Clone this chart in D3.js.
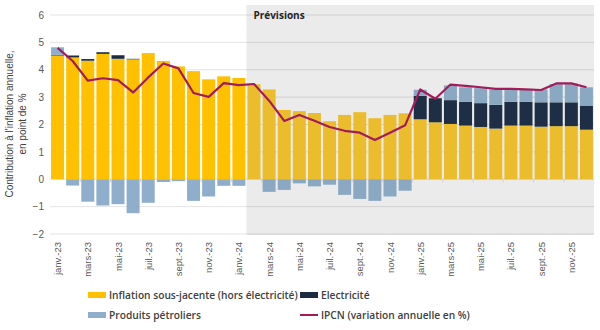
<!DOCTYPE html>
<html>
<head>
<meta charset="utf-8">
<script src="https://cdn.jsdelivr.net/npm/d3@7"></script>
<style>
  html, body { margin: 0; padding: 0; background: #fff; }
  svg { display: block; font-family: "Liberation Sans", Arial, sans-serif; }
</style>
</head>
<body>
<div id="chart"></div>
<script>
// Contributions à l'inflation annuelle
const monthNames = ['janv.', 'févr.', 'mars', 'avr.', 'mai', 'juin', 'juil.', 'août', 'sept.', 'oct.', 'nov.', 'déc.'];
const years = ['23', '24', '25'];
const months = years.flatMap(y => monthNames.map(m => m + '-' + y));

const core = [4.52, 4.45, 4.33, 4.58, 4.40, 4.38, 4.61, 4.32, 4.12, 3.95, 3.65, 3.76,
              3.70, 3.47, 3.28, 2.53, 2.49, 2.42, 2.12, 2.35, 2.45, 2.23, 2.35, 2.41,
              2.19, 2.08, 2.02, 1.96, 1.91, 1.85, 1.96, 1.96, 1.92, 1.94, 1.94, 1.81];
const elec = [0.03, 0.07, 0.06, 0.06, 0.13, 0.02, 0, 0, 0, 0, 0, 0,
              0, 0, 0, 0, 0, 0, 0, 0, 0, 0, 0, 0,
              0.86, 0.88, 0.87, 0.87, 0.87, 0.87, 0.87, 0.87, 0.89, 0.87, 0.87, 0.88];
const oil = [0.27, -0.23, -0.82, -0.96, -0.91, -1.24, -0.86, -0.10, -0.07, -0.79, -0.63, -0.24,
             -0.24, 0, -0.46, -0.39, -0.15, -0.26, -0.20, -0.57, -0.72, -0.79, -0.63, -0.42,
             0.22, 0, 0.54, 0.53, 0.55, 0.56, 0.45, 0.45, 0.47, 0.67, 0.69, 0.67];
const ipcn = [4.80, 4.32, 3.60, 3.69, 3.62, 3.17, 3.72, 4.23, 4.05, 3.15, 3.01, 3.51,
              3.44, 3.48, 2.87, 2.13, 2.35, 2.14, 1.91, 1.77, 1.70, 1.43, 1.70, 1.97,
              3.28, 2.94, 3.46, 3.41, 3.36, 3.30, 3.30, 3.28, 3.26, 3.50, 3.50, 3.36];
const forecastStart = 'févr.-24';
const yTicks = [-2, -1, 0, 1, 2, 3, 4, 5, 6];

const seriesKeys = ['core', 'elec', 'oil'];
const seriesLabels = {
  core: 'Inflation sous-jacente (hors électricité)',
  elec: 'Electricité',
  oil: 'Produits pétroliers',
  ipcn: 'IPCN (variation annuelle en %)'
};

(function() {
  const width = 600, height = 330;
  const colors = { core: '#FFC000', elec: '#1B2B40', oil: '#8EAECB' };
  const colorsFc = { core: '#EBBD2C', elec: '#1E2F45', oil: '#8BA8C2' };
  const lineColor = '#A21C5A';

  const svg = d3.select('#chart').append('svg')
    .attr('width', width)
    .attr('height', height);

  const x = d3.scaleBand()
    .domain(months)
    .range([50, 594])
    .paddingInner(0.14)
    .paddingOuter(0.07);

  const y = d3.scaleLinear()
    .domain([-2, 6])
    .range([234, 15]);

  const step = x.step();
  const gap = step - x.bandwidth();
  const fcIndex = months.indexOf(forecastStart);
  const isFc = i => i >= fcIndex;

  // Zone de prévisions
  const fcX = x(forecastStart) - gap / 2;
  svg.append('rect')
    .attr('x', fcX)
    .attr('y', 5)
    .attr('width', 594 - fcX)
    .attr('height', 230)
    .attr('fill', '#EBEBEB');

  // Grille
  svg.append('g')
    .selectAll('line')
    .data(yTicks)
    .join('line')
    .attr('x1', 50)
    .attr('x2', 594)
    .attr('y1', d => y(d))
    .attr('y2', d => y(d))
    .attr('stroke', 'rgba(0,0,0,0.11)')
    .attr('stroke-width', 1);

  // Axe Y (étiquettes seulement)
  const yAxis = svg.append('g')
    .attr('transform', 'translate(44,0)')
    .call(d3.axisLeft(y).tickValues(yTicks).tickSize(0).tickPadding(0).tickFormat(d3.format('d')));
  yAxis.select('.domain').remove();
  yAxis.selectAll('text')
    .attr('fill', '#595959')
    .attr('font-size', '10px')
    .attr('font-family', '"Liberation Sans", Arial, sans-serif');

  // Barres empilées
  const rows = months.map((m, i) => ({ month: m, i: i, core: core[i], elec: elec[i], oil: oil[i] }));
  const stacked = d3.stack()
    .keys(seriesKeys)
    .offset(d3.stackOffsetDiverging)(rows);

  stacked.forEach(function(layer) {
    svg.append('g')
      .selectAll('rect')
      .data(layer)
      .join('rect')
      .attr('x', d => x(d.data.month))
      .attr('width', x.bandwidth())
      .attr('y', d => y(Math.max(d[0], d[1])))
      .attr('height', d => Math.abs(y(d[0]) - y(d[1])))
      .attr('fill', d => isFc(d.data.i) ? colorsFc[layer.key] : colors[layer.key]);
  });

  // Petites graduations sur l'axe zéro
  svg.append('g')
    .selectAll('line')
    .data(months.filter((m, i) => i % 2 === 0 && i > 0))
    .join('line')
    .attr('x1', d => x(d) - gap / 2)
    .attr('x2', d => x(d) - gap / 2)
    .attr('y1', y(0))
    .attr('y2', y(0) + 3)
    .attr('stroke', '#D0D0D0');

  // Courbe IPCN
  const line = d3.line()
    .x((d, i) => x(months[i]) + x.bandwidth() / 2)
    .y(d => y(d));
  svg.append('path')
    .datum(ipcn)
    .attr('d', line)
    .attr('fill', 'none')
    .attr('stroke', lineColor)
    .attr('stroke-width', 2.2)
    .attr('stroke-linejoin', 'round');

  svg.append('text')
    .attr('x', fcX + 7)
    .attr('y', 19)
    .attr('font-size', '10px')
    .attr('font-weight', 'bold')
    .attr('fill', '#262626')
    .attr('font-family', '"Open Sans", sans-serif')
    .text('Prévisions');

  // Axe X : une étiquette sur deux, verticale
  svg.append('g')
    .selectAll('text')
    .data(months.filter((m, i) => i % 2 === 0))
    .join('text')
    .attr('transform', d => `translate(${x(d) + x.bandwidth() / 2 + 3.5},242) rotate(-90)`)
    .attr('text-anchor', 'end')
    .attr('font-size', '9.5px')
    .attr('fill', '#595959')
    .text(d => d);

  // Titre de l'axe Y
  const yTitle = svg.append('text')
    .attr('transform', 'translate(13,124) rotate(-90)')
    .attr('text-anchor', 'middle')
    .attr('font-size', '10px')
    .attr('fill', '#404040');
  yTitle.append('tspan').attr('x', 0).attr('dy', 0).text("Contribution à l'inflation annuelle,");
  yTitle.append('tspan').attr('x', 0).attr('dy', 13).text('en point de %');

  // Légende
  const legendItems = [
    { key: 'core', x: 88, y: 295, type: 'rect' },
    { key: 'elec', x: 300, y: 295, type: 'rect' },
    { key: 'oil', x: 88, y: 315, type: 'rect' },
    { key: 'ipcn', x: 300, y: 315, type: 'line' }
  ];
  legendItems.forEach(function(item) {
    const lg = svg.append('g').attr('transform', `translate(${item.x},${item.y})`);
    if (item.type === 'rect') {
      lg.append('rect').attr('x', 0).attr('y', -3).attr('width', 18).attr('height', 6).attr('fill', colors[item.key]);
    } else {
      lg.append('line').attr('x1', 0).attr('x2', 18).attr('y1', 0).attr('y2', 0)
        .attr('stroke', lineColor).attr('stroke-width', 2);
    }
    lg.append('text')
      .attr('x', 21)
      .attr('y', 3.5)
      .attr('font-size', '10.2px')
      .attr('font-weight', 600)
      .attr('fill', '#404040')
      .attr('font-family', '"Open Sans", sans-serif')
      .text(seriesLabels[item.key]);
  });
})();
</script>
</body>
</html>
